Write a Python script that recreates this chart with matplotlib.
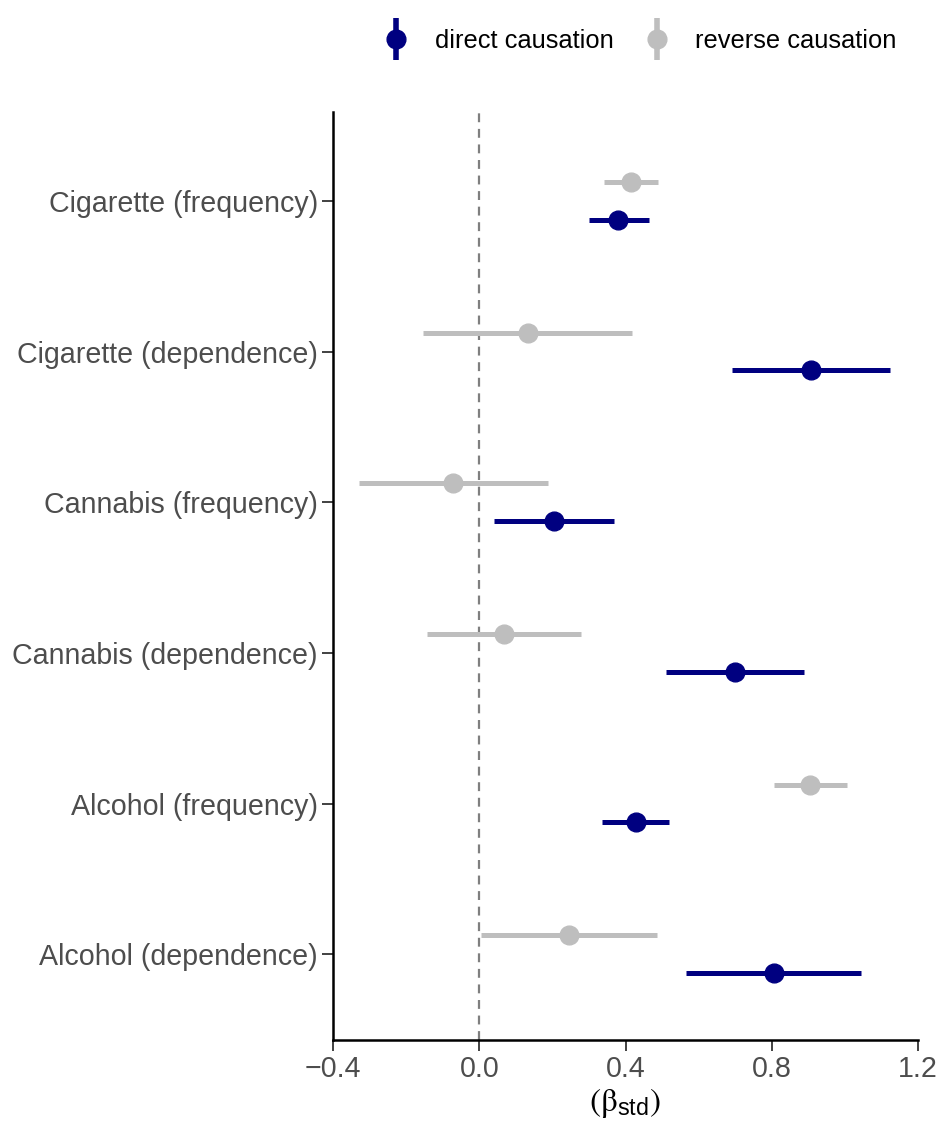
import matplotlib.pyplot as plt
from matplotlib.lines import Line2D
import numpy as np

plt.rcParams['font.family'] = ['Liberation Sans', 'DejaVu Sans']
plt.rcParams['mathtext.fontset'] = 'stix'

# categories from bottom to top
categories = ['Alcohol (dependence)', 'Alcohol (frequency)', 'Cannabis (dependence)',
              'Cannabis (frequency)', 'Cigarette (dependence)', 'Cigarette (frequency)']

direct_est = [0.806, 0.429, 0.699, 0.205, 0.907, 0.38]
direct_lo = [0.566, 0.336, 0.511, 0.041, 0.69, 0.30]
direct_hi = [1.044, 0.519, 0.888, 0.369, 1.123, 0.465]

reverse_est = [0.246, 0.904, 0.068, -0.071, 0.134, 0.415]
reverse_lo = [0.005, 0.806, -0.142, -0.33, -0.153, 0.34]
reverse_hi = [0.486, 1.005, 0.279, 0.189, 0.418, 0.49]

navy = '#000080'
grey = '#BEBEBE'

fig = plt.figure(figsize=(9.36, 11.29), dpi=100)
ax = fig.add_axes([0.3558, 0.0788, 0.625, 0.822])

y = np.arange(1, len(categories) + 1)
off = 0.125

ax.axvline(0, color='#7F7F7F', lw=1.6, ls=(0, (4, 3)), zorder=1)

ax.hlines(y + off, reverse_lo, reverse_hi, color=grey, lw=3.6, zorder=2)
ax.plot(reverse_est, y + off, 'o', color=grey, ms=13.5, zorder=3)
ax.hlines(y - off, direct_lo, direct_hi, color=navy, lw=3.6, zorder=2)
ax.plot(direct_est, y - off, 'o', color=navy, ms=13.5, zorder=3)

ax.set_xlim(-0.4, 1.2)
ax.set_ylim(0.43, 6.59)
ax.set_xticks([-0.4, 0.0, 0.4, 0.8, 1.2])
ax.set_xticklabels(['\u22120.4', '0.0', '0.4', '0.8', '1.2'])
ax.set_yticks(y)
ax.set_yticklabels(categories)
ax.tick_params(axis='both', labelsize=20.6, labelcolor='#4D4D4D', color='#333333',
               length=8, width=1.3, pad=3)
for side in ['top', 'right']:
    ax.spines[side].set_visible(False)
for side in ['left', 'bottom']:
    ax.spines[side].set_linewidth(1.8)
ax.set_xlabel(r'$\left(\mathrm{\beta}_{\mathregular{std}}\right)$', fontsize=24, labelpad=2)

h_direct = (Line2D([], [], color=navy, marker='|', ms=30, mew=4, ls='none'),
            Line2D([], [], color=navy, marker='o', ms=13.5, ls='none'))
h_reverse = (Line2D([], [], color=grey, marker='|', ms=30, mew=4, ls='none'),
             Line2D([], [], color=grey, marker='o', ms=13.5, ls='none'))
fig.legend([h_direct, h_reverse], ['direct causation', 'reverse causation'],
           loc='center', bbox_to_anchor=(0.681, 0.964), ncol=2, frameon=False,
           fontsize=18.4, handlelength=1.4, handletextpad=0.8, columnspacing=1.0)

fig.savefig('out.png', dpi=100)
